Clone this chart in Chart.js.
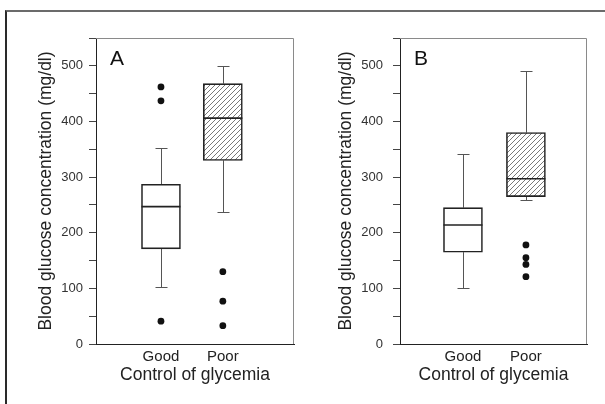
<!DOCTYPE html>
<html>
<head>
<meta charset="utf-8">
<script src="https://cdn.jsdelivr.net/npm/chart.js@4.4.1/dist/chart.umd.min.js"></script>
<style>
  body { margin: 0; background: #fff; }
  #wrap { position: relative; width: 605px; height: 404px; overflow: hidden; }
  #wrap canvas { position: absolute; top: 0; }
  #frame { position: absolute; left: 5px; top: 10px; right: 0; bottom: -5px;
           border-top: 2px solid #6b6b6b; border-left: 2px solid #2a2a2a; }
</style>
</head>
<body>
<div id="wrap">
  <div id="frame"></div>
  <canvas id="panelA" width="300" height="404" style="left:0"></canvas>
  <canvas id="panelB" width="305" height="404" style="left:300px"></canvas>
</div>
<script>
// categories and y tick labels
var groups = ['Good', 'Poor'];
var yLabels = [0, 100, 200, 300, 400, 500];

// panel A box stats (Good, Poor)
var aLow  = [103, 238];
var aQ1   = [171, 330];
var aMed  = [247, 406];
var aQ3   = [287, 468];
var aHigh = [352, 500];
var aOutGood = [462, 437, 41];
var aOutPoor = [130, 77, 33];

// panel B box stats (Good, Poor)
var bLow  = [101, 259];
var bQ1   = [165, 265];
var bMed  = [214, 297];
var bQ3   = [245, 380];
var bHigh = [341, 491];
var bOutGood = [];
var bOutPoor = [178, 155, 143, 121];

var FONT = "'Liberation Sans', Arial, sans-serif";
var BOX_W = 39;

function hatchPattern() {
    var c = document.createElement('canvas');
    c.width = 5; c.height = 5;
    var g = c.getContext('2d');
    g.fillStyle = '#fff';
    g.fillRect(0, 0, 5, 5);
    g.strokeStyle = '#6a6a6a';
    g.lineWidth = 0.9;
    g.beginPath();
    g.moveTo(0, 5); g.lineTo(5, 0);
    g.moveTo(-1, 1); g.lineTo(1, -1);
    g.moveTo(4, 6); g.lineTo(6, 4);
    g.stroke();
    return g.createPattern(c, 'repeat');
}

// whiskers, medians, frame and panel letter
var boxPlugin = {
    id: 'boxExtras',
    beforeDatasetsDraw: function(chart, args, o) {
        var s = o.stats, x = chart.scales.x, y = chart.scales.y, ctx = chart.ctx;
        ctx.save();
        ctx.strokeStyle = '#555';
        ctx.lineWidth = 1;
        for (var i = 0; i < groups.length; i++) {
            var px = Math.round(x.getPixelForValue(i + 1)) + 0.5;
            var pairs = [[s.q3[i], s.high[i]], [s.q1[i], s.low[i]]];
            pairs.forEach(function(p) {
                var y0 = y.getPixelForValue(p[0]), y1 = Math.round(y.getPixelForValue(p[1])) + 0.5;
                ctx.beginPath();
                ctx.moveTo(px, y0); ctx.lineTo(px, y1);
                ctx.moveTo(px - 6, y1); ctx.lineTo(px + 6, y1);
                ctx.stroke();
            });
        }
        ctx.restore();
    },
    afterDatasetsDraw: function(chart, args, o) {
        var s = o.stats, x = chart.scales.x, y = chart.scales.y, ctx = chart.ctx;
        var a = chart.chartArea;
        ctx.save();
        ctx.strokeStyle = '#222';
        ctx.lineWidth = 1.6;
        for (var i = 0; i < groups.length; i++) {
            var px = x.getPixelForValue(i + 1);
            var py = y.getPixelForValue(s.med[i]);
            ctx.beginPath();
            ctx.moveTo(px - BOX_W / 2, py); ctx.lineTo(px + BOX_W / 2, py);
            ctx.stroke();
        }
        // top and right edges of the plot frame
        ctx.strokeStyle = '#8a8a8a';
        ctx.lineWidth = 1;
        ctx.beginPath();
        ctx.moveTo(a.left, a.top + 0.5); ctx.lineTo(a.right - 0.5, a.top + 0.5);
        ctx.lineTo(a.right - 0.5, a.bottom);
        ctx.stroke();
        ctx.fillStyle = '#111';
        ctx.font = '21px ' + FONT;
        ctx.textBaseline = 'top';
        ctx.fillText(o.letter, a.left + 14, a.top + 11);
        ctx.restore();
    }
};

function makePanel(id, letter, low, q1, med, q3, high, outGood, outPoor, opts) {
    var boxes = groups.map(function(g, i) { return {x: i + 1, y: [q1[i], q3[i]]}; });
    var outliers = outGood.map(function(v) { return {x: 1, y: v}; })
        .concat(outPoor.map(function(v) { return {x: 2, y: v}; }));

    return new Chart(document.getElementById(id), {
        type: 'bar',
        data: {
            datasets: [{
                data: boxes,
                backgroundColor: ['#fff', hatchPattern()],
                borderColor: '#222',
                borderWidth: 1.6,
                borderSkipped: false,
                barThickness: BOX_W
            }, {
                type: 'scatter',
                data: outliers,
                pointRadius: 3.4,
                pointBackgroundColor: '#111',
                pointBorderWidth: 0
            }]
        },
        options: {
            responsive: false,
            animation: false,
            layout: { padding: { top: 38, right: opts.padRight, bottom: 0, left: 0 } },
            plugins: {
                legend: { display: false },
                tooltip: { enabled: false },
                boxExtras: { stats: { low: low, q1: q1, med: med, q3: q3, high: high }, letter: letter }
            },
            scales: {
                x: {
                    type: 'linear',
                    offset: false,
                    min: opts.xMin,
                    max: opts.xMax,
                    afterBuildTicks: function(scale) {
                        scale.ticks = groups.map(function(g, i) { return {value: i + 1}; });
                    },
                    afterFit: function(scale) { scale.height = 60; },
                    ticks: {
                        callback: function(v) { return groups[v - 1]; },
                        font: { family: FONT, size: 15 },
                        color: '#222',
                        padding: 4,
                        maxRotation: 0
                    },
                    grid: { display: false, drawTicks: false, offset: false },
                    border: { display: true, color: '#222', width: 1 },
                    title: {
                        display: true,
                        text: 'Control of glycemia',
                        font: { family: FONT, size: 17.5 },
                        color: '#222',
                        padding: { top: 0, bottom: 18 }
                    }
                },
                y: {
                    min: 0,
                    max: 550,
                    afterFit: function(scale) { scale.width = opts.yWidth; },
                    ticks: {
                        stepSize: 50,
                        callback: function(v) { return yLabels.indexOf(v) >= 0 ? String(v) : ''; },
                        font: { family: FONT, size: 13 },
                        color: '#333',
                        padding: opts.tickPad
                    },
                    grid: { drawOnChartArea: false, drawTicks: true, tickLength: 7, color: '#444' },
                    border: { display: true, color: '#222', width: 1 },
                    title: {
                        display: true,
                        text: 'Blood glucose concentration (mg/dl)',
                        font: { family: FONT, size: 17.5 },
                        color: '#222',
                        padding: { top: 36, bottom: 0 }
                    }
                }
            }
        },
        plugins: [boxPlugin]
    });
}

makePanel('panelA', 'A', aLow, aQ1, aMed, aQ3, aHigh, aOutGood, aOutPoor,
    { xMin: -0.05, xMax: 3.15, padRight: 6, yWidth: 96, tickPad: 6 });
makePanel('panelB', 'B', bLow, bQ1, bMed, bQ3, bHigh, bOutGood, bOutPoor,
    { xMin: 0, xMax: 2.97, padRight: 18, yWidth: 100, tickPad: 10 });
</script>
</body>
</html>
